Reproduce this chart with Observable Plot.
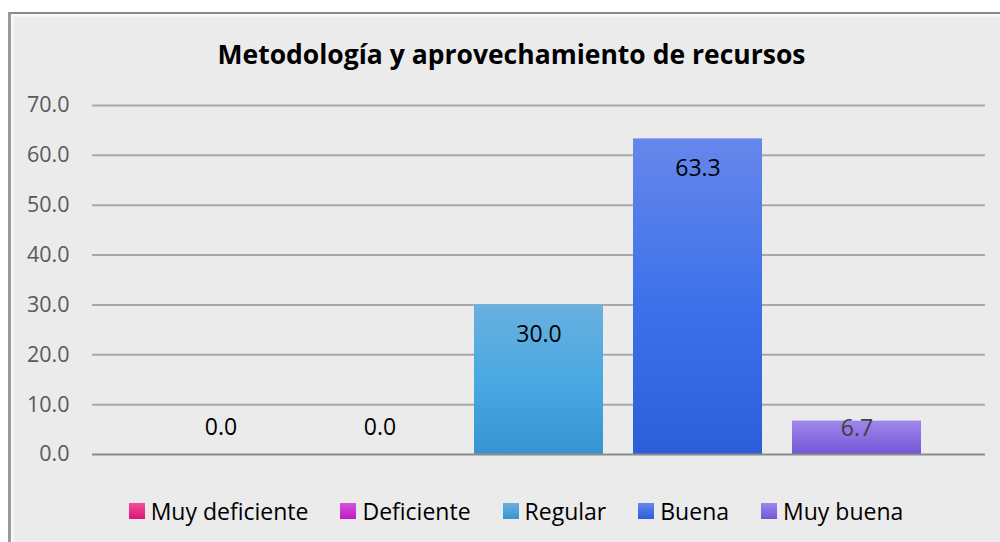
<!DOCTYPE html>
<html>
<head>
<meta charset="utf-8">
<script src="https://cdn.jsdelivr.net/npm/d3@7"></script>
<script src="https://cdn.jsdelivr.net/npm/@observablehq/plot@0.6"></script>
<style>
  html, body { margin: 0; padding: 0; background: #ffffff; width: 1000px; height: 542px; overflow: hidden; font-family: "Open Sans", sans-serif; }
  #frame { position: absolute; left: 8px; top: 12px; width: 992px; height: 530px; background: #ebebeb;
           border-top: 2px solid #8a8a8a; border-left: 3px solid #9a9a9a; box-sizing: border-box;
           box-shadow: inset 2px 2px 3px rgba(255,255,255,0.9); }
  #title { position: absolute; left: 0; top: 35px; width: 1023px; text-align: center; font-weight: 700; font-size: 26.5px; color: #000; line-height: 38px; }
  #chart { position: absolute; left: 0; top: 85px; }
  #legend { position: absolute; left: 0; top: 495px; width: 1032px; display: flex; justify-content: center; gap: 32px; font-size: 23px; color: #000; line-height: 32px; }
  .item { display: flex; align-items: center; gap: 6px; }
  .sw { width: 16px; height: 16px; display: inline-block; }
</style>
</head>
<body>
<div id="frame"></div>
<div id="title">Metodología y aprovechamiento de recursos</div>
<div id="chart"></div>
<div id="legend"></div>
<script>
// ---- data ----
const categories = ["Muy deficiente", "Deficiente", "Regular", "Buena", "Muy buena"];
const values = [0.0, 0.0, 30.0, 63.3, 6.7];
const yTicks = [0, 10, 20, 30, 40, 50, 60, 70];

// ---- styles (gradient stops per category: top, middle, bottom) ----
const palette = [
  ["#f0509a", "#e8308a", "#dc1478"],
  ["#d852da", "#cc34ce", "#bc1cc0"],
  ["#6ab0e0", "#4aa8e2", "#3794d0"],
  ["#6687eb", "#3f72ea", "#2c5ed8"],
  ["#9e87eb", "#8a6fe2", "#7555d5"]
];

const data = categories.map((c, i) => ({cat: c, value: values[i]}));
const fmt = d => d.value.toFixed(1);

const svg = Plot.plot({
  width: 1000,
  height: 390,
  marginLeft: 92,
  marginRight: 15,
  marginTop: 20,
  marginBottom: 21,
  style: {fontFamily: "Open Sans", background: "transparent", overflow: "visible"},
  x: {domain: categories, paddingInner: 0.19, paddingOuter: 0.4025, axis: null},
  y: {domain: [0, 70], axis: null},
  color: {domain: categories, range: categories.map((c, i) => `url(#grad${i})`)},
  marks: [
    Plot.ruleY(yTicks.filter(t => t > 0), {stroke: "#a8a8a8", strokeWidth: 2}),
    Plot.barY(data, {x: "cat", y: "value", fill: "cat"}),
    Plot.ruleY([0], {stroke: "#8c8c8c", strokeWidth: 2}),
    Plot.axisY({ticks: yTicks, tickFormat: d => d.toFixed(1), tickSize: 0, tickPadding: 23, fontSize: 21.5, fill: "#595959", label: null}),
    Plot.text(data.filter(d => d.value >= 20), {x: "cat", y: "value", text: fmt, dy: 30, fontSize: 23, fill: "#000"}),
    Plot.text(data.filter(d => d.value === 0), {x: "cat", y: "value", text: fmt, dy: -27, fontSize: 23, fill: "#000"}),
    Plot.text(data.filter(d => d.value > 0 && d.value < 20), {x: "cat", y: "value", text: fmt, dy: 8, fontSize: 23, fill: "#404040"})
  ]
});

const defs = d3.select(svg).insert("defs", ":first-child");
palette.forEach((stops, i) => {
  const g = defs.append("linearGradient").attr("id", `grad${i}`).attr("x1", 0).attr("y1", 0).attr("x2", 0).attr("y2", 1);
  g.append("stop").attr("offset", "0%").attr("stop-color", stops[0]);
  g.append("stop").attr("offset", "50%").attr("stop-color", stops[1]);
  g.append("stop").attr("offset", "100%").attr("stop-color", stops[2]);
});

document.getElementById("chart").appendChild(svg);

const legend = document.getElementById("legend");
categories.forEach((c, i) => {
  const item = document.createElement("div");
  item.className = "item";
  const sw = document.createElement("span");
  sw.className = "sw";
  sw.style.background = `linear-gradient(${palette[i][0]}, ${palette[i][2]})`;
  const lab = document.createElement("span");
  lab.textContent = c;
  item.appendChild(sw);
  item.appendChild(lab);
  legend.appendChild(item);
});
</script>
</body>
</html>
